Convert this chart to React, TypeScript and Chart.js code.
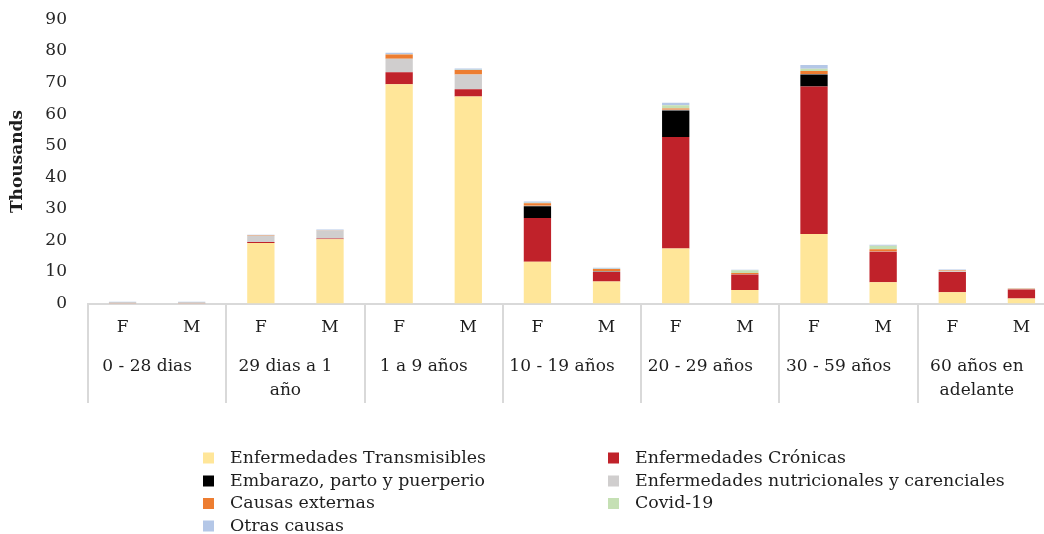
import React, { useEffect, useRef } from "react";
import { Chart, registerables } from "chart.js";

Chart.register(...registerables);

const sexLabels = ["F", "M", "F", "M", "F", "M", "F", "M", "F", "M", "F", "M", "F", "M"];
const groupLabels = [
  ["0 - 28 dias"],
  ["29 dias a 1", "año"],
  ["1 a 9 años"],
  ["10 - 19 años"],
  ["20 - 29 años"],
  ["30 - 59 años"],
  ["60 años en", "adelante"],
];

const seriesNames = [
  "Enfermedades Transmisibles",
  "Enfermedades Crónicas",
  "Embarazo, parto y puerperio",
  "Enfermedades nutricionales y carenciales",
  "Causas externas",
  "Covid-19",
  "Otras causas",
];

// values in thousands
const transmisibles = [0.1, 0.1, 19.2, 20.4, 69.5, 65.6, 13.2, 7.0, 17.4, 4.3, 22.0, 6.7, 3.6, 1.6];
const cronicas = [0.02, 0.02, 0.3, 0.2, 3.8, 2.3, 13.9, 3.0, 35.4, 4.9, 46.8, 9.7, 6.4, 2.8];
const embarazo = [0, 0, 0, 0, 0, 0, 3.7, 0.05, 8.4, 0, 3.8, 0, 0, 0];
const nutricionales = [0.35, 0.35, 2.0, 2.6, 4.3, 4.7, 0.2, 0.2, 0.2, 0.1, 0.1, 0.1, 0.2, 0.15];
const externas = [0.02, 0.02, 0.15, 0.1, 1.3, 1.4, 0.8, 0.7, 0.4, 0.4, 1.0, 0.7, 0.25, 0.15];
const covid = [0, 0, 0, 0, 0.1, 0.1, 0.1, 0.1, 1.0, 0.8, 0.7, 1.1, 0.1, 0.05];
const otras = [0.05, 0.05, 0.1, 0.15, 0.5, 0.4, 0.4, 0.25, 0.8, 0.2, 1.2, 0.3, 0.2, 0.1];

const seriesValues = [transmisibles, cronicas, embarazo, nutricionales, externas, covid, otras];
const seriesColors = ["#FFE699", "#C0222A", "#000000", "#D0CECE", "#ED7D31", "#C5E0B4", "#B4C7E7"];

const yTicks = [0, 10, 20, 30, 40, 50, 60, 70, 80, 90];

const FONT = "'DejaVu Serif', serif";
const TEXT = "#1E1E1E";

const multiLevelPlugin = {
  id: "multiLevel",
  afterDraw(chart: any) {
    const { ctx, chartArea } = chart;
    const x = chart.scales.x;
    const bottom = chartArea.bottom;
    ctx.save();
    // separators
    ctx.strokeStyle = "#D9D9D9";
    ctx.lineWidth = 2;
    for (let g = 0; g <= groupLabels.length; g++) {
      const px = Math.round(x.getPixelForValue(g * 2 - 0.5));
      ctx.beginPath();
      ctx.moveTo(px, bottom);
      ctx.lineTo(px, 403);
      ctx.stroke();
    }
    ctx.fillStyle = TEXT;
    ctx.font = "17px " + FONT;
    ctx.textAlign = "center";
    ctx.textBaseline = "middle";
    sexLabels.forEach((s, i) => {
      ctx.fillText(s, x.getPixelForValue(i), 328);
    });
    groupLabels.forEach((lines, g) => {
      const cx = x.getPixelForValue(g * 2 + 0.5) - 10;
      lines.forEach((ln, k) => {
        ctx.fillText(ln, cx, 367 + k * 23.5);
      });
    });
    // legend
    const cols = [203, 608];
    const rows = [458, 481, 503.5, 526];
    ctx.textAlign = "left";
    ctx.font = "17.4px " + FONT;
    chart.data.datasets.forEach((ds: any, i: number) => {
      const bx = cols[i % 2];
      const by = rows[Math.floor(i / 2)];
      ctx.fillStyle = ds.backgroundColor;
      ctx.fillRect(bx, by - 5.5, 11, 11);
      ctx.fillStyle = TEXT;
      ctx.fillText(ds.label, bx + 27, by);
    });
    ctx.restore();
  },
};

export default function App() {
  const ref = useRef<HTMLCanvasElement | null>(null);
  useEffect(() => {
    if (!ref.current) return;
    const chart = new Chart(ref.current, {
      type: "bar",
      data: {
        labels: sexLabels.map((s, i) => s + " " + groupLabels[Math.floor(i / 2)].join(" ")),
        datasets: seriesNames.map((name, i) => ({
          label: name,
          data: seriesValues[i],
          backgroundColor: seriesColors[i],
          borderWidth: 0,
          categoryPercentage: 1,
          barPercentage: 0.395,
        })),
      },
      options: {
        responsive: false,
        animation: false,
        layout: { padding: { top: 19.5, right: 8, left: 0, bottom: 0 } },
        plugins: { legend: { display: false }, tooltip: { enabled: false } },
        scales: {
          x: {
            stacked: true,
            grid: { display: false, drawTicks: false },
            border: { display: true, color: "#D9D9D9", width: 2 },
            ticks: { display: false },
            afterFit: (scale: any) => {
              scale.height = 534 - 303.5;
            },
          },
          y: {
            stacked: true,
            min: 0,
            max: 90,
            afterBuildTicks: (scale: any) => {
              scale.ticks = yTicks.map((v) => ({ value: v }));
            },
            grid: { display: false, drawTicks: false },
            border: { display: false },
            ticks: {
              padding: 21,
              color: "#262626",
              font: { family: FONT, size: 17 },
            },
            title: {
              display: true,
              text: "Thousands",
              color: TEXT,
              font: { family: FONT, size: 17, weight: "bold" },
              padding: { top: 7, bottom: 0 },
            },
            afterFit: (scale: any) => {
              scale.width = 88;
              scale.paddingTop = 0;
              scale.paddingBottom = 0;
            },
          },
        },
      },
      plugins: [multiLevelPlugin],
    });
    return () => chart.destroy();
  }, []);
  return (
    <div
      style={{
        position: "fixed",
        left: 0,
        top: 0,
        width: 1044,
        height: 534,
        overflow: "hidden",
        background: "#fff",
      }}
    >
      <canvas ref={ref} width={1064} height={534} style={{ display: "block" }} />
    </div>
  );
}
